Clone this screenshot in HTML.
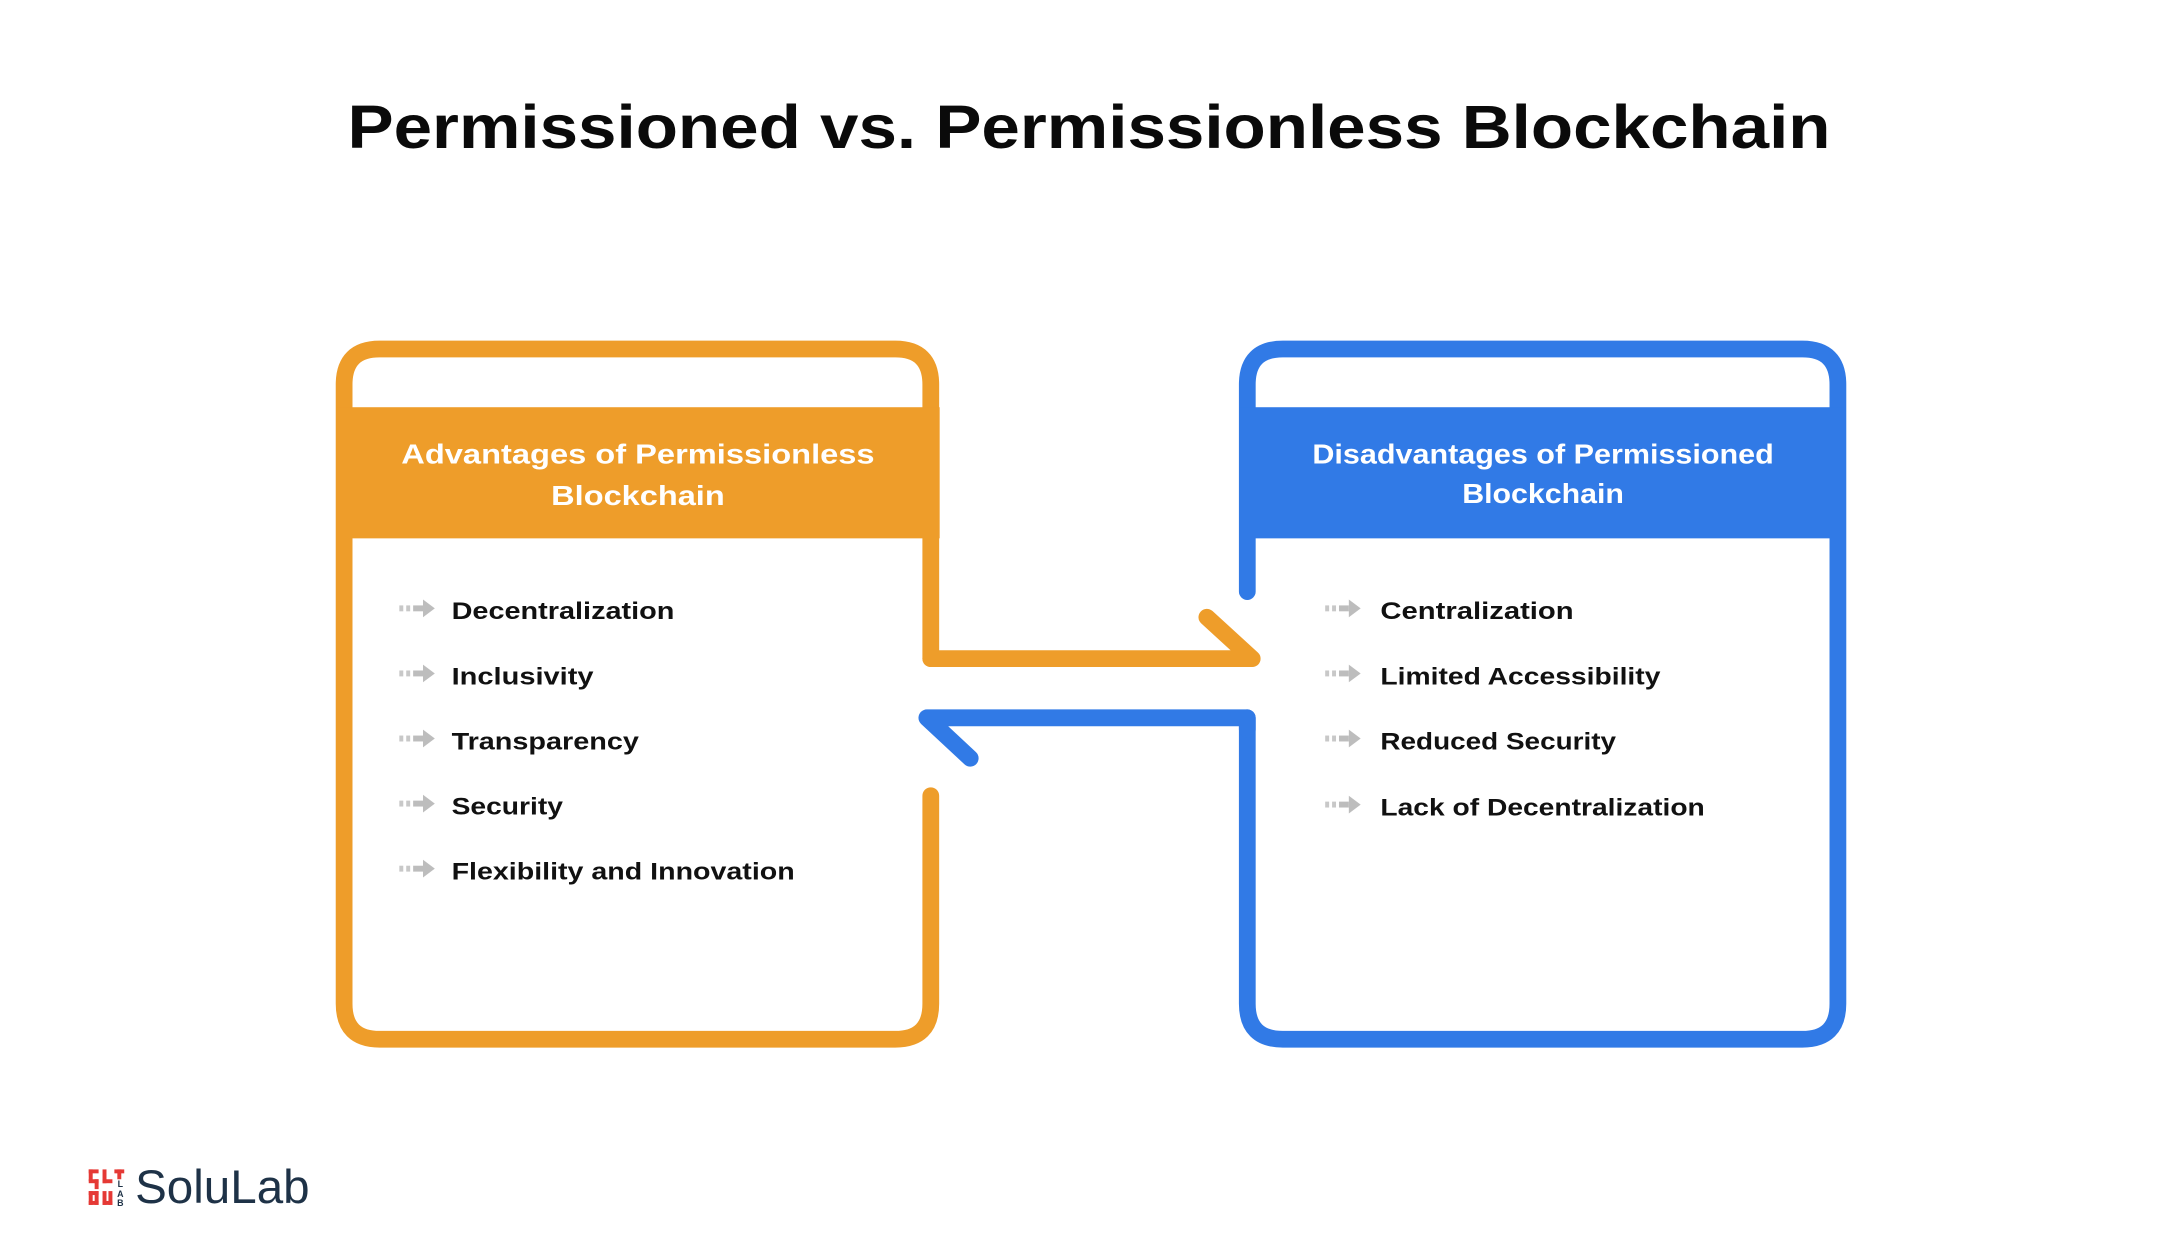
<!DOCTYPE html>
<html><head><meta charset="utf-8"><style>
html,body{margin:0;padding:0;background:#fff;}
svg{display:block;}
text{font-family:"Liberation Sans",sans-serif;}
</style></head><body>
<svg width="2179" height="1256" viewBox="0 0 2179 1256" xmlns="http://www.w3.org/2000/svg">
<defs>
<g id="ic">
<rect x="0" y="-3" width="4" height="6" fill="#c8c8c8"/>
<rect x="7" y="-3" width="4" height="6" fill="#c8c8c8"/>
<rect x="14" y="-3" width="10" height="6" fill="#bdbdbd"/>
<path d="M24,-9 L36,0 L24,9 Z" fill="#bdbdbd"/>
</g>
</defs>
<text x="1089" y="148" text-anchor="middle" font-size="61" font-weight="bold" fill="#0a0a0a" textLength="1483" lengthAdjust="spacingAndGlyphs">Permissioned vs. Permissionless Blockchain</text>

<g transform="scale(0.986)">
<path d="M944,668 L944,390 Q944,354 908,354 L385,354 Q349,354 349,390 L349,1018 Q349,1054 385,1054 L908,1054 Q944,1054 944,1018 L944,807" fill="none" stroke="#ee9d2a" stroke-width="17" stroke-linecap="round"/>
<rect x="341" y="413" width="612" height="133" fill="#ee9d2a"/>
<path d="M944,668 L1270,668 L1224,626" fill="none" stroke="#ee9d2a" stroke-width="17" stroke-linecap="round" stroke-linejoin="round"/>

<path d="M1265,600 L1265,390 Q1265,354 1301,354 L1828,354 Q1864,354 1864,390 L1864,1018 Q1864,1054 1828,1054 L1301,1054 Q1265,1054 1265,1018 L1265,728" fill="none" stroke="#317ae6" stroke-width="17" stroke-linecap="round"/>
<rect x="1257" y="413" width="615" height="133" fill="#317ae6"/>
<path d="M1265,740 L1265,728 L940,728 L984,769" fill="none" stroke="#317ae6" stroke-width="17" stroke-linecap="round" stroke-linejoin="round"/>

<g font-weight="bold" fill="#fff" font-size="28" text-anchor="middle">
<text x="647" y="470" textLength="480" lengthAdjust="spacingAndGlyphs">Advantages of Permissionless</text>
<text x="647" y="512" textLength="176" lengthAdjust="spacingAndGlyphs">Blockchain</text>
<text x="1565" y="470" textLength="468" lengthAdjust="spacingAndGlyphs">Disadvantages of Permissioned</text>
<text x="1565" y="510" textLength="164" lengthAdjust="spacingAndGlyphs">Blockchain</text>
</g>

<g font-weight="bold" fill="#111" font-size="24">
<use href="#ic" x="405" y="617"/><text x="458" y="628" textLength="226" lengthAdjust="spacingAndGlyphs">Decentralization</text>
<use href="#ic" x="405" y="683"/><text x="458" y="694" textLength="144" lengthAdjust="spacingAndGlyphs">Inclusivity</text>
<use href="#ic" x="405" y="749"/><text x="458" y="760" textLength="190" lengthAdjust="spacingAndGlyphs">Transparency</text>
<use href="#ic" x="405" y="815"/><text x="458" y="826" textLength="113" lengthAdjust="spacingAndGlyphs">Security</text>
<use href="#ic" x="405" y="881"/><text x="458" y="892" textLength="348" lengthAdjust="spacingAndGlyphs">Flexibility and Innovation</text>

<use href="#ic" x="1344" y="617"/><text x="1400" y="628" textLength="196" lengthAdjust="spacingAndGlyphs">Centralization</text>
<use href="#ic" x="1344" y="683"/><text x="1400" y="694" textLength="284" lengthAdjust="spacingAndGlyphs">Limited Accessibility</text>
<use href="#ic" x="1344" y="749"/><text x="1400" y="760" textLength="239" lengthAdjust="spacingAndGlyphs">Reduced Security</text>
<use href="#ic" x="1344" y="816"/><text x="1400" y="827" textLength="329" lengthAdjust="spacingAndGlyphs">Lack of Decentralization</text>
</g>

<g fill="#e53935">
<rect x="90" y="1186" width="10" height="4"/><rect x="90" y="1186" width="4" height="12"/><rect x="90" y="1196" width="10" height="4"/><rect x="96" y="1196" width="4" height="10"/>
<rect x="104" y="1186" width="4" height="14"/><rect x="104" y="1196" width="10" height="4"/>
<rect x="116" y="1186" width="10" height="4"/><rect x="119" y="1186" width="4" height="10"/>
<rect x="90" y="1208" width="4" height="14"/><rect x="90" y="1208" width="10" height="4"/><rect x="90" y="1218" width="10" height="4"/><rect x="96" y="1208" width="4" height="14"/>
<rect x="104" y="1208" width="4" height="14"/><rect x="110" y="1208" width="4" height="14"/><rect x="104" y="1218" width="10" height="4"/>
</g>
<g font-size="9" font-weight="bold" fill="#1e3247" text-anchor="middle">
<text x="122" y="1204">L</text><text x="122" y="1214">A</text><text x="122" y="1223">B</text>
</g>
<text x="137" y="1220" font-size="48" fill="#1e3247" textLength="177" lengthAdjust="spacingAndGlyphs">SoluLab</text>
</g>
</svg>
</body></html>
